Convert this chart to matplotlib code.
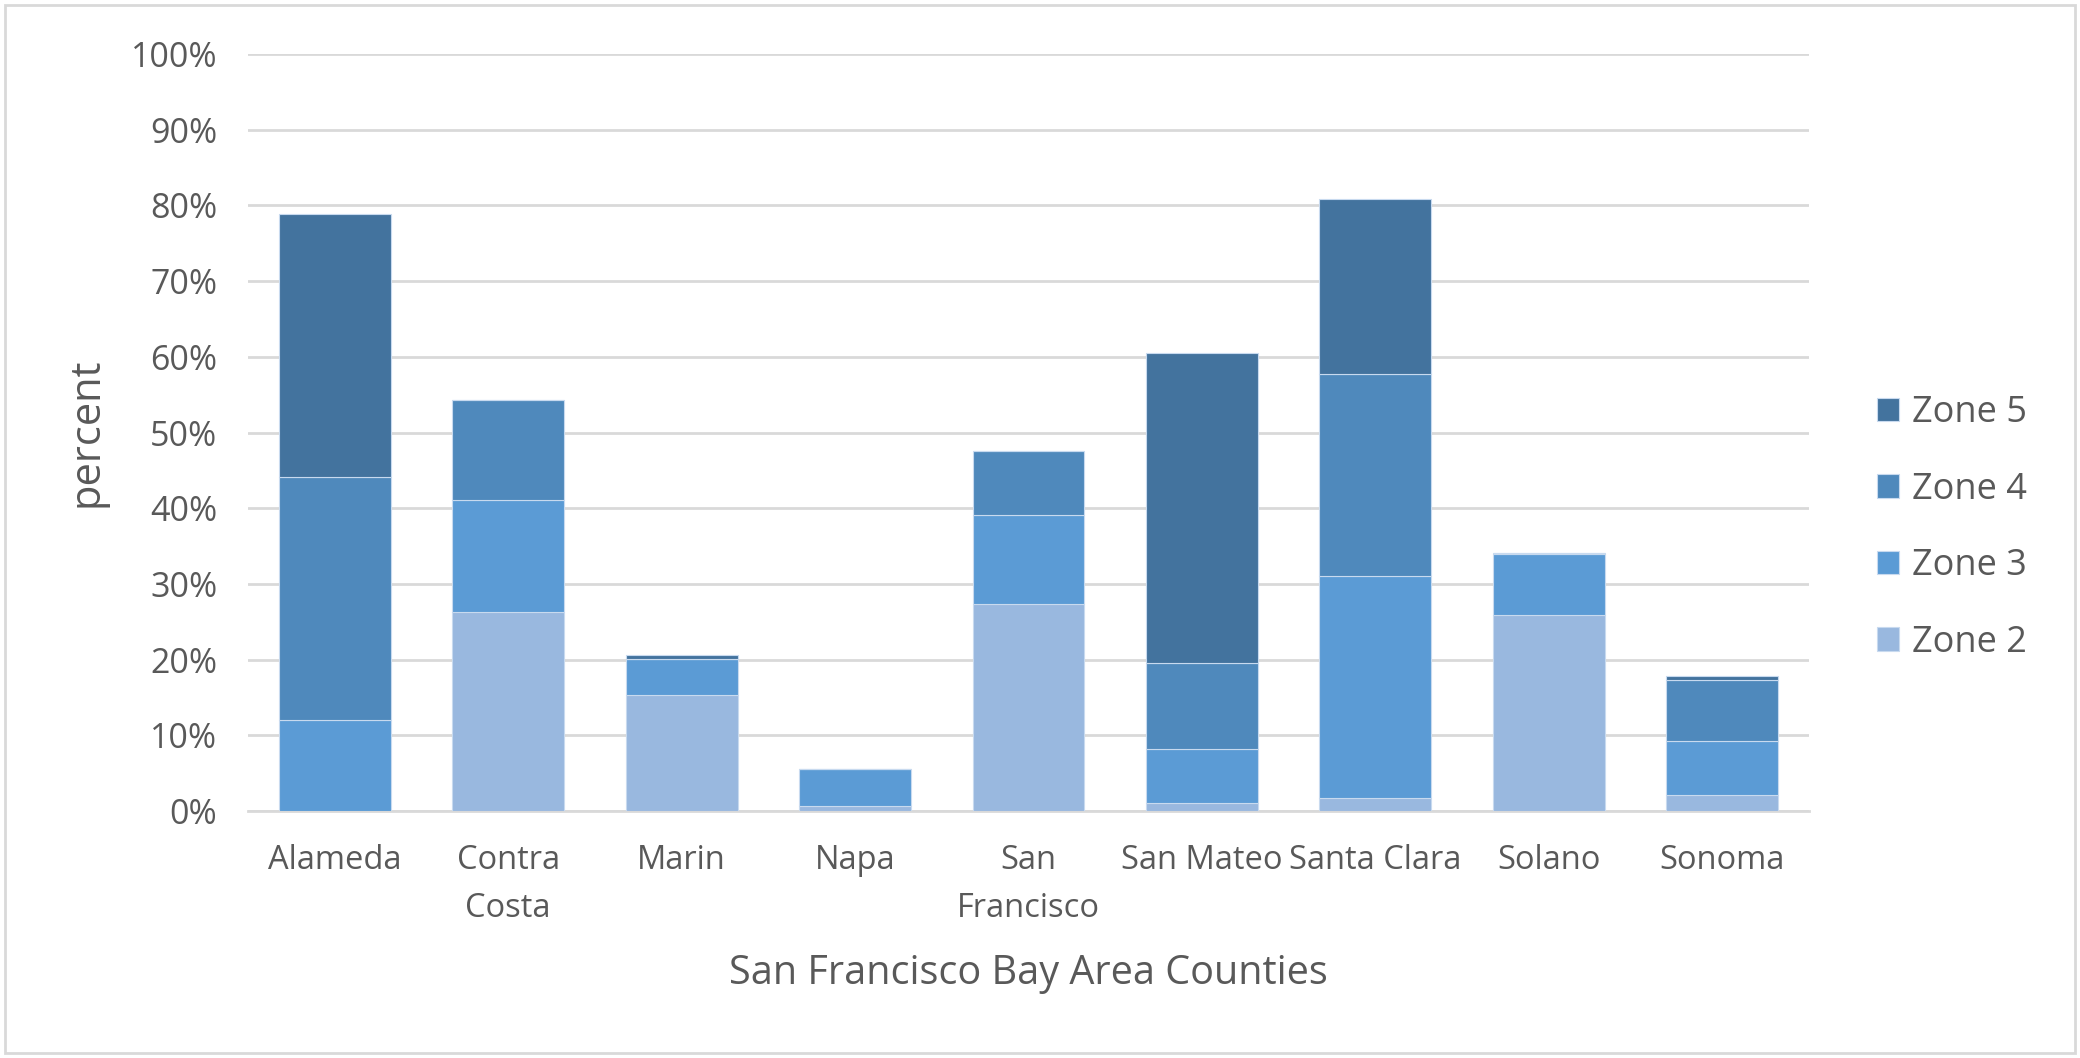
import numpy as np
import matplotlib.pyplot as plt
from matplotlib.patches import Rectangle
from matplotlib.ticker import PercentFormatter

plt.rcParams['font.family'] = ['Open Sans', 'DejaVu Sans']

# --- Datos ---
counties = ["Alameda", "Contra\nCosta", "Marin", "Napa", "San\nFrancisco",
            "San Mateo", "Santa Clara", "Solano", "Sonoma"]
zone2 = [0.0, 26.3, 15.3, 0.6, 27.3, 1.0, 1.7, 25.9, 2.1]
zone3 = [12.0, 14.8, 4.8, 4.9, 11.8, 7.2, 29.4, 8.1, 7.2]
zone4 = [32.1, 13.2, 0.0, 0.0, 8.4, 11.4, 26.6, 0.1, 8.0]
zone5 = [34.7, 0.0, 0.5, 0.0, 0.0, 40.9, 23.1, 0.0, 0.5]

series = [("Zone 2", zone2, "#99B8DF"),
          ("Zone 3", zone3, "#5B9BD5"),
          ("Zone 4", zone4, "#4F89BC"),
          ("Zone 5", zone5, "#43739E")]

txt = "#595959"

fig = plt.figure(figsize=(20.8, 10.58), dpi=100)
ax = fig.add_axes([248 / 2080, 1 - 811 / 1058, 1561 / 2080, 757 / 1058])

x = np.arange(len(counties))
bottom = np.zeros(len(counties))
handles = {}
for name, vals, col in series:
    v = np.array(vals)
    b = ax.bar(x, v, 0.645, bottom=bottom, color=col, edgecolor="#c8daef",
               linewidth=0.8, label=name, zorder=3)
    handles[name] = b
    bottom += v

ax.set_xlim(-0.5, len(counties) - 0.5)
ax.set_ylim(0, 100)
ax.set_yticks(np.arange(0, 101, 10))
ax.yaxis.set_major_formatter(PercentFormatter(decimals=0))
ax.grid(axis="y", color="#d9d9d9", linewidth=2, zorder=0)
ax.set_axisbelow(True)
for s in ["top", "right", "left"]:
    ax.spines[s].set_visible(False)
ax.spines["bottom"].set_color("#d9d9d9")
ax.spines["bottom"].set_linewidth(2)
ax.tick_params(axis="both", length=0, colors=txt)
ax.tick_params(axis="y", pad=22, labelsize=24.5)
ax.tick_params(axis="x", pad=24, labelsize=23.5)
ax.set_xticks(x)
ax.set_xticklabels(counties, linespacing=1.6)

ax.set_ylabel("percent", fontsize=30, color=txt, labelpad=17)
ax.set_xlabel("San Francisco Bay Area Counties", fontsize=28.5, color=txt, labelpad=20)

order = ["Zone 5", "Zone 4", "Zone 3", "Zone 2"]
leg = ax.legend([handles[n] for n in order], order, loc="center left",
                bbox_to_anchor=(1877 / 2080, 1 - 528 / 1058), bbox_transform=fig.transFigure,
                frameon=False, fontsize=26, handlelength=0.62, handleheight=0.62,
                handletextpad=0.35, labelspacing=1.12, borderaxespad=0, borderpad=0)
for t in leg.get_texts():
    t.set_color(txt)

# marco exterior
fig.patches.append(Rectangle((0.0025, 0.005), 0.995, 0.99, transform=fig.transFigure,
                             fill=False, edgecolor="#d9d9d9", linewidth=2))

fig.savefig("out.png", dpi=100)
